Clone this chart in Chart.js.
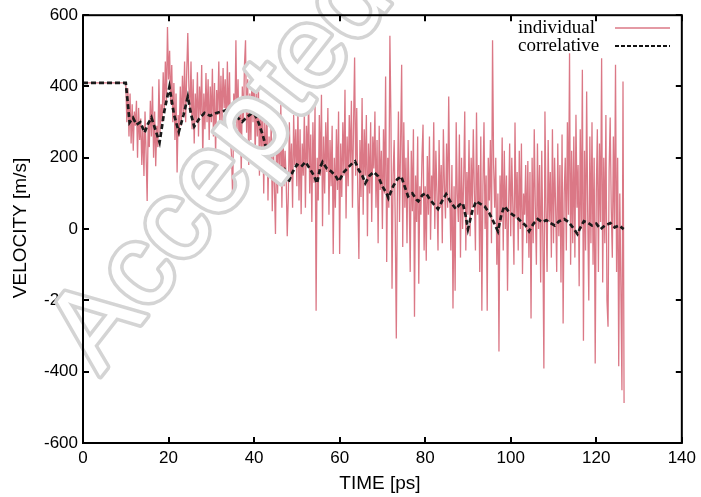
<!DOCTYPE html>
<html>
<head>
<meta charset="utf-8">
<script src="https://cdn.jsdelivr.net/npm/chart.js@4.4.1/dist/chart.umd.min.js"></script>
<style>
  body { margin: 0; background: #fff; }
  canvas { display: block; }
</style>
</head>
<body>
<canvas id="grafica" width="701" height="497"></canvas>
<script>
// individual: one value every 0.25 ps starting at 10 ps (flat 410 before that)
const indStart = 10;
const indStep = 0.25;
const indFlat = 410;
const indValues = [
  410, 300, 395, 260, 380, 240, 350, 220, 330, 290, 360, 200, 340, 250, 310, 180, 290, 149, 330, 210,
  79, 300, 230, 360, 260, 400, 200, 330, 176, 290, 230, 420, 270, 350, 300, 440, 330, 470, 360, 567,
  420, 500, 350, 460, 300, 410, 250, 380, 159, 320, 260, 400, 290, 430, 320, 470, 300, 440, 550, 400,
  330, 470, 280, 420, 240, 380, 300, 440, 260, 400, 320, 460, 195, 380, 280, 438, 300, 420, 250, 400,
  300, 450, 260, 410, 204, 390, 320, 470, 280, 430, 300, 452, 340, 420, 260, 470, 300, 440, 250, 200,
  79, 380, 300, 530, 280, 420, 220, 360, 150, 400, 300, 460, 530, 270, 420, 180, 380, 250, 440, 300,
  456, 200, 380, 260, 420, 150, 330, 220, 360, 100, 300, 180, 340, 80, 260, 150, 300, 50, 230, 120,
  -14, 250, 100, 320, 160, 349, 60, 280, 120, 220, 140, -20, 90, 300, 140, 240, 60, 320, 180, 280,
  120, 344, 80, 280, 42, 240, 150, 330, 60, 290, 180, 370, 100, 265, 20, 300, 130, 350, -229, 200,
  80, 320, 150, 377, 8, 260, 100, 300, 160, 340, 40, 250, 120, 290, -70, 200, 60, 280, 110, 330,
  -70, 240, 90, 300, 150, 391, 30, 260, 120, 320, 180, 360, 60, 290, 481, 150, 340, 100, -84, 250,
  90, 368, 40, 280, 150, 320, -20, 240, 100, 300, 20, 260, 170, 330, 60, 250, -40, 290, 110, 220,
  0, 280, 100, 428, -92, 200, 60, 542, 300, -167, 150, 250, 20, -307, 100, 330, 20, 240, 461, -50,
  300, 60, 200, -40, 250, 100, -120, 220, 50, 280, -246, 150, 20, 260, -153, 120, 40, 200, 293, -60,
  120, -89, 205, 40, 260, -30, 150, 80, 300, 0, 220, 100, -60, 250, 60, 180, -40, 280, 120, 30,
  240, 60, 372, 100, -60, 180, -223, 120, -173, 300, 100, 20, 265, -80, 200, 0, 140, 330, -60, 160,
  40, 250, -20, 200, 60, 280, 100, -60, 327, 40, 180, -120, 260, -229, 120, 300, 0, 150, -229, 200,
  80, 250, -40, 530, 180, 60, 200, -100, 100, -343, 150, 20, 257, -60, 220, 0, 150, -173, 60, 240,
  -20, 200, 60, -100, 299, 30, 160, -60, 220, 0, 240, -126, 100, 40, 180, -40, 191, -80, 160, -251,
  200, -40, 280, 60, -100, 240, 0, 180, -150, 220, -20, -391, 330, 60, -120, 250, 20, 160, -80, 280,
  -40, 200, 60, -120, 240, -20, 180, -150, 265, -265, 100, 200, -60, 300, 40, 493, -100, 220, -40, 260,
  -80, 321, 60, 180, -160, 280, 0, 447, -313, 220, -60, 386, 40, -200, 260, -40, 300, -100, 200, -377,
  100, 280, -120, 240, 20, 479, -150, 200, -40, 320, -200, -274, 160, 313, 60, -80, 260, 0, 461, -120,
  200, -385, 100, -160, -452, 414, -488
];

// correlative
const corrTime = [0, 10, 10.5, 10.9, 11.7, 12.5, 13.4, 14.4, 15.2, 16, 16.9, 17.9, 19, 20.2, 21.3, 22.4,
  23.5, 24.5, 25.3, 26, 27.2, 28.4, 29.7, 31, 32.5, 34, 35.5, 37.2, 38.4, 39.5,
  40, 41, 42, 43, 44, 45, 46, 47, 48, 49, 50, 51, 52, 53, 54, 54.7, 55.5, 56, 57, 58, 59, 59.8,
  61, 62, 63, 63.6, 64.5, 65.3, 66, 67, 68, 69, 70, 71, 71.4, 72.5, 73.5, 74.4, 75.2, 76, 77, 78, 78.4,
  79.3, 80.2, 81, 82, 83, 84, 84.9, 86, 87.2, 88, 88.8, 89.5, 90, 91, 91.9, 93, 93.9, 95, 96, 97, 97.8,
  98.5, 99.5, 100.5, 101.6, 102.5, 103.5, 104.3, 105.3, 106.3, 107.3, 108.3, 109.3, 110.3, 111.3, 112.5,
  113.5, 114.5, 115.6, 116.3, 117.1, 118, 119, 120, 121, 122, 123.3, 124.3, 125.3, 126.4];
const corrValues = [410, 410, 350, 299, 312, 293, 300, 271, 295, 313, 280, 243, 330, 399, 320, 273,
  320, 371, 320, 288, 310, 326, 318, 325, 330, 335, 320, 301, 315, 325,
  325, 300, 265, 220, 180, 150, 175, 170, 130, 160, 181, 175, 188, 170, 150, 128, 175, 188, 170, 162, 150, 134,
  160, 173, 185, 190, 165, 150, 129, 150, 160, 148, 120, 100, 87, 120, 140, 148, 120, 92, 100, 82, 78,
  95, 101, 85, 70, 56, 80, 98, 75, 56, 68, 73, 35, 0, 50, 78, 70, 64, 45, 20, -6, 40,
  64, 50, 40, 31, 20, 10, -6, 15, 28, 20, 25, 17, 10, 22, 28,
  20, 5, -14, 5, 22, 18, 10, 15, 0, 10, 17, 5, 10, 0];

const xTicks = [0, 20, 40, 60, 80, 100, 120, 140];
const yTicks = [-600, -400, -200, 0, 200, 400, 600];
const seriesNames = ['individual', 'correlative'];

const pink = 'rgb(219,120,134)';

const indPoints = [{x: 0, y: indFlat}].concat(indValues.map((v, i) => ({x: indStart + i * indStep, y: v})));
const corrPoints = corrTime.map((t, i) => ({x: t, y: corrValues[i]}));

Chart.defaults.font.family = 'Liberation Sans, Arial, sans-serif';
Chart.defaults.color = '#000';

const marco = {
  id: 'marco',
  afterDatasetsDraw(chart) {
    // "Accepted" watermark, over the data but under the frame
    const ctx = chart.ctx;
    ctx.save();
    ctx.translate(100, 376);
    ctx.rotate(-52 * Math.PI / 180);
    ctx.font = '115px "Liberation Sans", Arial, sans-serif';
    ctx.lineJoin = 'round';
    ctx.lineWidth = 7;
    ctx.strokeStyle = '#d4d4d4';
    ctx.strokeText('Accepted', 0, 0);
    ctx.fillStyle = '#fff';
    ctx.fillText('Accepted', 0, 0);
    ctx.restore();
  },
  afterDraw(chart) {
    const {ctx, chartArea: a, scales: {x, y}} = chart;
    ctx.save();
    ctx.strokeStyle = '#000';
    ctx.lineWidth = 2;
    ctx.strokeRect(a.left, a.top, a.right - a.left, a.bottom - a.top);
    ctx.beginPath();
    xTicks.forEach(v => {
      const px = Math.round(x.getPixelForValue(v));
      ctx.moveTo(px, a.bottom); ctx.lineTo(px, a.bottom - 6);
      ctx.moveTo(px, a.top); ctx.lineTo(px, a.top + 6);
    });
    yTicks.forEach(v => {
      const py = Math.round(y.getPixelForValue(v));
      ctx.moveTo(a.left, py); ctx.lineTo(a.left + 6, py);
      ctx.moveTo(a.right, py); ctx.lineTo(a.right - 6, py);
    });
    ctx.stroke();

    // axis titles
    ctx.fillStyle = '#000';
    ctx.font = '19px "Liberation Sans", Arial, sans-serif';
    ctx.textAlign = 'center';
    ctx.textBaseline = 'middle';
    ctx.fillText('TIME [ps]', 380, 484);
    ctx.save();
    ctx.translate(21, 228);
    ctx.rotate(-Math.PI / 2);
    ctx.fillText('VELOCITY [m/s]', 0, 0);
    ctx.restore();

    // key
    ctx.font = '19px "Liberation Serif", "Times New Roman", serif';
    ctx.textAlign = 'left';
    ctx.textBaseline = 'alphabetic';
    ctx.fillText(seriesNames[0], 518, 33);
    ctx.fillText(seriesNames[1], 518, 51);
    ctx.beginPath();
    ctx.strokeStyle = pink;
    ctx.lineWidth = 1.3;
    ctx.moveTo(615, 28); ctx.lineTo(670, 28);
    ctx.stroke();
    ctx.beginPath();
    ctx.strokeStyle = '#111';
    ctx.lineWidth = 2;
    ctx.setLineDash([4, 2]);
    ctx.moveTo(615, 46); ctx.lineTo(670, 46);
    ctx.stroke();
    ctx.restore();
  }
};

const grafica = new Chart(document.getElementById('grafica'), {
  type: 'line',
  data: {
    datasets: [{
      label: seriesNames[0],
      data: indPoints,
      borderColor: pink,
      borderWidth: 1.3,
      pointRadius: 0,
      tension: 0,
      order: 2
    }, {
      label: seriesNames[1],
      data: corrPoints,
      borderColor: '#1a1a1a',
      borderWidth: 2.7,
      borderDash: [5, 3],
      pointRadius: 0,
      tension: 0,
      order: 1
    }]
  },
  options: {
    responsive: false,
    animation: false,
    layout: { padding: { top: 13, right: 16, left: 0, bottom: 0 } },
    plugins: { legend: { display: false }, tooltip: { enabled: false } },
    scales: {
      x: {
        type: 'linear',
        min: 0, max: 140,
        grid: { display: false, drawTicks: false },
        border: { display: false },
        afterBuildTicks: s => { s.ticks = xTicks.map(v => ({value: v})); },
        afterFit: s => { s.height = 54; },
        ticks: { padding: 5, font: { size: 17 }, maxRotation: 0 }
      },
      y: {
        min: -600, max: 600,
        grid: { display: false, drawTicks: false },
        border: { display: false },
        afterBuildTicks: s => { s.ticks = yTicks.map(v => ({value: v})); },
        afterFit: s => { s.width = 83; },
        ticks: { padding: 5, font: { size: 17 } }
      }
    }
  },
  plugins: [marco]
});
</script>
</body>
</html>
